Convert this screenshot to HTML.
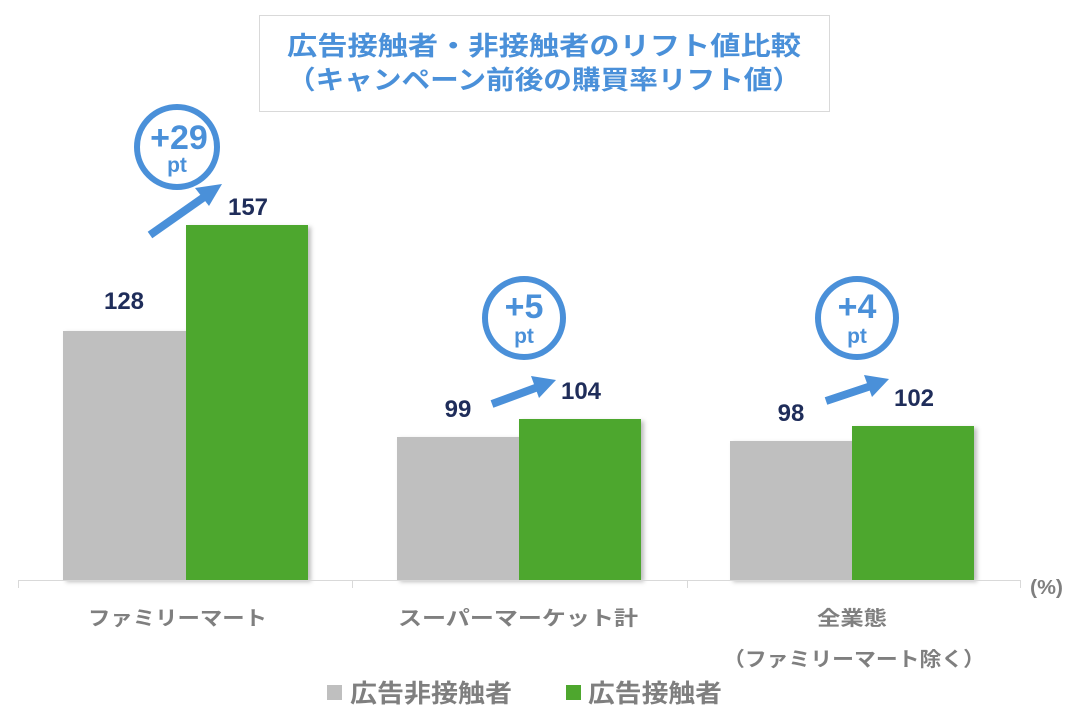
<!DOCTYPE html>
<html><head><meta charset="utf-8"><style>
body{margin:0;background:#fff;}
svg{display:block;font-family:"Liberation Sans","Noto Sans CJK JP",sans-serif;}
</style></head><body>
<svg width="1086" height="720" viewBox="0 0 1086 720" xmlns="http://www.w3.org/2000/svg">
<defs>
<filter id="sh" x="-10%" y="-10%" width="130%" height="130%"><feDropShadow dx="3" dy="2" stdDeviation="2" flood-color="#000" flood-opacity="0.25"/></filter>
</defs>
<rect x="259.5" y="15.5" width="570" height="96" fill="#fff" stroke="#d9d9d9" stroke-width="1"/>
<g fill="#4a90d9" font-weight="bold" font-size="26" text-anchor="middle">
<text x="544" y="55" textLength="514" lengthAdjust="spacingAndGlyphs">広告接触者・非接触者のリフト値比較</text>
<text x="544" y="89" textLength="514" lengthAdjust="spacingAndGlyphs">（キャンペーン前後の購買率リフト値）</text>
</g>
<g filter="url(#sh)">
<rect x="63" y="331" width="123" height="249" fill="#bfbfbf"/>
<rect x="186" y="225" width="122" height="355" fill="#4ea72e"/>
<rect x="397" y="437" width="122" height="143" fill="#bfbfbf"/>
<rect x="519" y="419" width="122" height="161" fill="#4ea72e"/>
<rect x="730" y="441" width="122" height="139" fill="#bfbfbf"/>
<rect x="852" y="426" width="122" height="154" fill="#4ea72e"/>
</g>
<g stroke="#d9d9d9" stroke-width="1">
<line x1="18" y1="580.5" x2="1020" y2="580.5"/>
<line x1="18.5" y1="580" x2="18.5" y2="588"/>
<line x1="352.5" y1="580" x2="352.5" y2="588"/>
<line x1="687.5" y1="580" x2="687.5" y2="588"/>
<line x1="1020.5" y1="580" x2="1020.5" y2="588"/>
</g>
<g fill="#1f2d5a" font-weight="bold" font-size="24" text-anchor="middle">
<text x="124" y="309">128</text><text x="248" y="215">157</text>
<text x="458" y="417">99</text><text x="581" y="399">104</text>
<text x="791" y="421">98</text><text x="914" y="406">102</text>
</g>
<g fill="none" stroke="#4a90d9" stroke-width="6">
<circle cx="177" cy="147" r="40"/>
<circle cx="524" cy="318" r="39"/>
<circle cx="857" cy="318" r="39"/>
</g>
<g fill="#4a90d9" font-weight="bold" text-anchor="middle">
<text x="179" y="149" font-size="34">+29</text><text x="177" y="172" font-size="21">pt</text>
<text x="524" y="318" font-size="34">+5</text><text x="524" y="343" font-size="21">pt</text>
<text x="857" y="318" font-size="34">+4</text><text x="857" y="343" font-size="21">pt</text>
</g>
<g stroke="#4a90d9" stroke-width="8" fill="#4a90d9">
<line x1="150" y1="235" x2="207" y2="195"/>
<line x1="492" y1="404" x2="538" y2="387"/>
<line x1="826" y1="401" x2="871" y2="386"/>
</g>
<g fill="#4a90d9">
<polygon points="222,184 195,188 209,206"/>
<polygon points="556,380 531,376 539,398"/>
<polygon points="889,379 864,375 872,397"/>
</g>
<g fill="#7f7f7f" font-weight="bold" font-size="20">
<text x="88" y="625" textLength="179" lengthAdjust="spacingAndGlyphs">ファミリーマート</text>
<text x="398" y="625" textLength="240" lengthAdjust="spacingAndGlyphs">スーパーマーケット計</text>
<text x="817" y="625" textLength="70" lengthAdjust="spacingAndGlyphs">全業態</text>
<text x="723" y="666" textLength="262" lengthAdjust="spacingAndGlyphs">（ファミリーマート除く）</text>
<text x="1030" y="594" textLength="33" lengthAdjust="spacingAndGlyphs">(%)</text>
</g>
<rect x="327" y="685" width="15" height="15" fill="#bfbfbf"/>
<rect x="566" y="685" width="15" height="15" fill="#4ea72e"/>
<g fill="#7f7f7f" font-weight="bold" font-size="25">
<text x="350" y="702" textLength="162" lengthAdjust="spacingAndGlyphs">広告非接触者</text>
<text x="588" y="702" textLength="134" lengthAdjust="spacingAndGlyphs">広告接触者</text>
</g>
</svg>
</body></html>
